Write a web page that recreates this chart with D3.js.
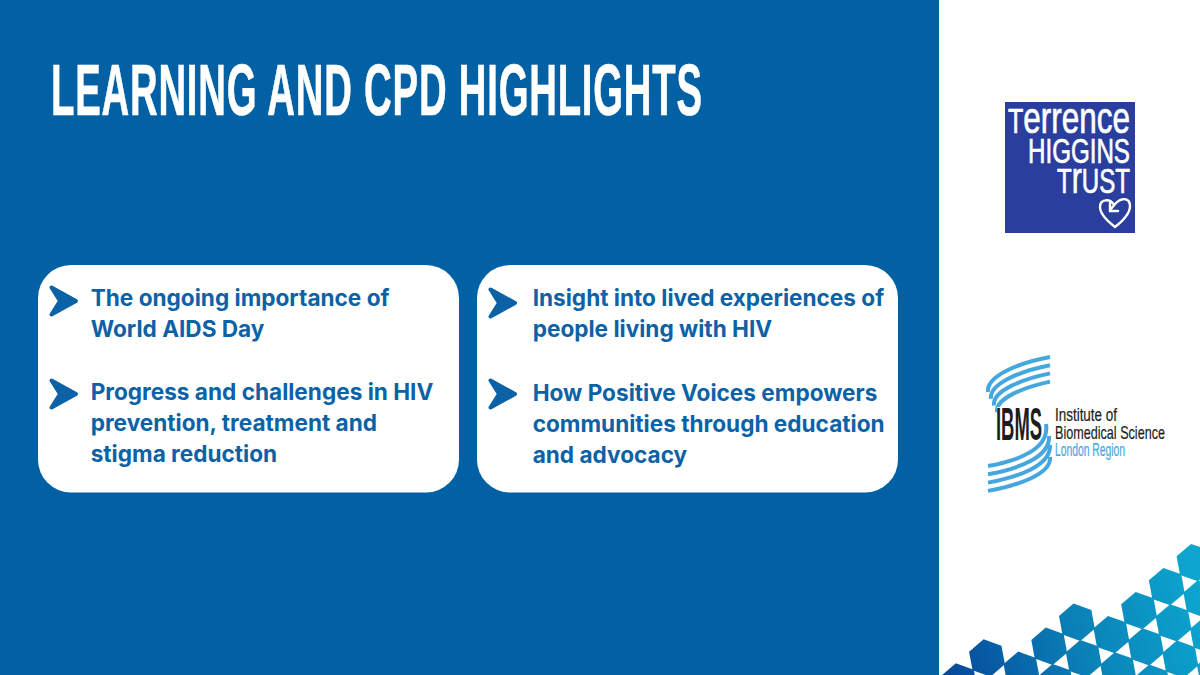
<!DOCTYPE html>
<html>
<head>
<meta charset="utf-8">
<script src="https://cdn.jsdelivr.net/npm/d3@7"></script>
<style>
html, body { margin: 0; padding: 0; background: #fff; overflow: hidden; }
text { font-family: "Inter", sans-serif; }
</style>
</head>
<body>
<div id="slide"></div>
<script>
// TEXT -------------------------------------------
const titleText = "LEARNING AND CPD HIGHLIGHTS";
const leftItems = [
    ["The ongoing importance of", "World AIDS Day"],
    ["Progress and challenges in HIV", "prevention, treatment and", "stigma reduction"]
];
const rightItems = [
    ["Insight into lived experiences of", "people living with HIV"],
    ["How Positive Voices empowers", "communities through education", "and advocacy"]
];
const ibmsLines = ["Institute of", "Biomedical Science", "London Region"];

// hexagon lattice: for each diagonal j, the lowest i that is filled
const hexRows = [1, 0, -1, -2, -3, -4, -5];
const hexStart = [0, 0, 1, 1, 2, 2, 2];
const stripes = [0, 1, 2, 3];

// TWEAKABLES -------------------------------------
const W = 1200, H = 675;
const blue = "#0261a4", panelText = "#0b62a6";
const narrow = '"Liberation Sans Narrow", sans-serif';

const svg = d3.select("#slide").append("svg")
    .attr("width", W).attr("height", H)
    .style("display", "block");

// Stretches a text to a given width, keeps its left edge
function fitWidth(sel, x, y, width) {
    const w = sel.node().getComputedTextLength();
    sel.attr("transform", `translate(${x},${y}) scale(${width / w},1)`);
    return sel;
}

svg.append("rect").attr("width", W).attr("height", H).attr("fill", "#fff");
svg.append("rect").attr("width", 939).attr("height", H).attr("fill", blue);

// Title
fitWidth(svg.append("text")
    .attr("font-size", 73)
    .attr("font-weight", 700)
    .attr("letter-spacing", 1.5)
    .style("font-family", narrow)
    .attr("fill", "#fff")
    .attr("stroke", "#fff")
    .attr("stroke-width", 0.7)
    .text(titleText), 51, 115, 652);

// Panels
const panels = [
    {x: 38, items: leftItems, tops: [306, 400], chevrons: [301, 394], offset: 0},
    {x: 477, items: rightItems, tops: [306, 401], chevrons: [303, 394], offset: 3}
];
const lineGap = 31;

const panel = svg.selectAll("g.panel").data(panels).enter().append("g")
    .attr("class", "panel")
    .attr("transform", d => `translate(${d.x},0)`);

panel.append("rect")
    .attr("y", 265).attr("width", 421).attr("height", 227.5)
    .attr("rx", 33).attr("ry", 33)
    .attr("fill", "#fff");

const item = panel.selectAll("g.item")
    .data(d => d.items.map((lines, i) => ({lines, y: d.tops[i], cy: d.chevrons[i], dx: d.offset})))
    .enter().append("g")
    .attr("class", "item");

// Chevron bullet
item.append("path")
    .attr("transform", d => `translate(0,${d.cy})`)
    .attr("d", "M13.5,-13.5 L38,0 L13.5,13.5 L22,0 Z")
    .attr("fill", panelText)
    .attr("stroke", panelText)
    .attr("stroke-width", 4)
    .attr("stroke-linejoin", "round");

item.selectAll("text")
    .data(d => d.lines.map((t, i) => ({t, y: d.y + i * lineGap, dx: d.dx})))
    .enter().append("text")
    .attr("x", d => 52.7 + d.dx)
    .attr("y", d => d.y)
    .attr("font-size", 22.6)
    .attr("font-weight", 700)
    .attr("fill", panelText)
    .text(d => d.t);

// Terrence Higgins Trust logo
const tht = svg.append("g");
tht.append("rect")
    .attr("x", 1005).attr("y", 102).attr("width", 130).attr("height", 131)
    .attr("fill", "#2a3f9d");

const thtLines = [
    {parts: [["T", 35], ["errence", 44]], x: 1008, y: 133, w: 122},
    {parts: [["HIGGINS", 35]], x: 1028, y: 163, w: 102},
    {parts: [["T", 35], ["r", 44], ["UST", 35]], x: 1057, y: 193, w: 73}
];
thtLines.forEach(l => {
    const t = tht.append("text")
        .style("font-family", narrow)
        .attr("fill", "#fff")
        .attr("stroke", "#fff")
        .attr("stroke-width", 0.7);
    l.parts.forEach(p => t.append("tspan").attr("font-size", p[1]).text(p[0]));
    fitWidth(t, l.x, l.y, l.w);
});

// heart
tht.append("path")
    .attr("d", "M1115,227 C1106,220 1100,214 1100,207 C1100,199 1110,198 1114,205 M1115,227 C1124,220 1130,213 1130,206 C1130,198 1122,197 1116,203 L1110,210 M1110,203 L1110,211 L1118,211")
    .attr("fill", "none")
    .attr("stroke", "#fff")
    .attr("stroke-width", 2.4)
    .attr("stroke-linecap", "round");

// IBMS logo
const ibms = svg.append("g");
const stripeBlue = "#45a7de";

ibms.selectAll("path.up").data(stripes).enter().append("path")
    .attr("class", "up")
    .attr("d", k => {
        const p = d3.path();
        const y = 357 + k * 8.2;
        p.moveTo(1050, y);
        p.bezierCurveTo(1020 + 1.7 * k, y + 5.5, 986 + 3 * k, 376 + 7.3 * k, 988 + 3 * k, 392 + 6.7 * k);
        return p.toString();
    })
    .attr("fill", "none").attr("stroke", stripeBlue).attr("stroke-width", 4);

const downEnds = [[1046, 424], [1049, 436], [1050, 445], [1050, 457]];
ibms.selectAll("path.down").data(stripes).enter().append("path")
    .attr("class", "down")
    .attr("d", k => {
        const p = d3.path();
        const y = 466 + k * 8.3;
        p.moveTo(988, y);
        p.bezierCurveTo(1018, y - 5.5, 1050 + 0.7 * k, y - 17, downEnds[k][0], downEnds[k][1]);
        return p.toString();
    })
    .attr("fill", "none").attr("stroke", stripeBlue).attr("stroke-width", 4);

fitWidth(ibms.append("text")
    .attr("font-size", 47).attr("font-weight", 700)
    .style("font-family", narrow).attr("fill", "#1d1d1b")
    .attr("paint-order", "stroke")
    .attr("stroke", "#fff").attr("stroke-width", 1.5)
    .text("IBMS"), 996, 440, 46);

const ibmsPos = [
    {y: 421, w: 62, c: "#1d1d1b"},
    {y: 439, w: 110, c: "#1d1d1b"},
    {y: 456, w: 70, c: stripeBlue}
];
ibmsLines.forEach((t, i) => {
    fitWidth(ibms.append("text")
        .attr("font-size", 17.5)
        .style("font-family", narrow)
        .attr("fill", ibmsPos[i].c)
        .attr("stroke", ibmsPos[i].c)
        .attr("stroke-width", 0.2)
        .text(t), 1055, ibmsPos[i].y, ibmsPos[i].w);
});

// Hexagons, lattice vectors
const origin = [987, 658], a = [34.5, 12.3], b = [-27.7, 24], hexR = 19;
const hexes = [];
hexRows.forEach((j, n) => {
    d3.range(hexStart[n], hexStart[n] + 7).forEach(i => {
        hexes.push([origin[0] + i * a[0] + j * b[0], origin[1] + i * a[1] + j * b[1]]);
    });
});

const defs = svg.append("defs");
const grad = defs.append("linearGradient")
    .attr("id", "hexGrad")
    .attr("gradientUnits", "userSpaceOnUse")
    .attr("x1", 945).attr("y1", 675).attr("x2", 1200).attr("y2", 590);
grad.append("stop").attr("offset", 0).attr("stop-color", "#06479a");
grad.append("stop").attr("offset", 0.5).attr("stop-color", "#0a7fb6");
grad.append("stop").attr("offset", 1).attr("stop-color", "#0ca6cf");

const hexAngles = d3.range(6).map(k => (19.6 + 60 * k) * Math.PI / 180);
svg.append("g").attr("fill", "url(#hexGrad)")
    .selectAll("path").data(hexes).enter().append("path")
    .attr("d", d => d3.line()(hexAngles.map(t => [d[0] + hexR * Math.cos(t), d[1] + hexR * Math.sin(t)])) + "Z");
</script>
</body>
</html>
